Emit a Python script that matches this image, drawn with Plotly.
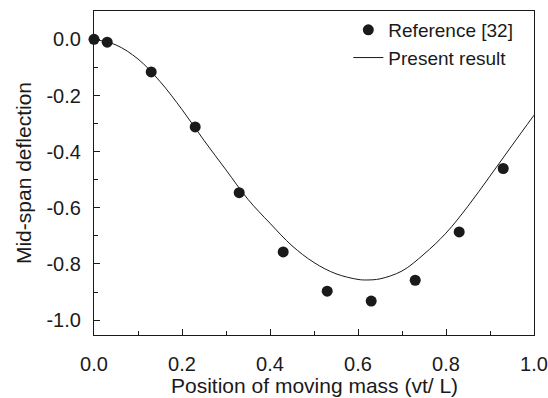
import plotly.graph_objects as go

# Reference [32] data points
ref_x = [0.0, 0.03, 0.13, 0.23, 0.33, 0.43, 0.53, 0.63, 0.73, 0.83, 0.93]
ref_y = [0.0, -0.01, -0.116, -0.312, -0.546, -0.757, -0.897, -0.932, -0.858, -0.686, -0.46]

# Present result curve
cur_x = [0.0, 0.05, 0.1, 0.15, 0.2, 0.25, 0.3, 0.35, 0.4, 0.45, 0.5, 0.55, 0.6, 0.62,
         0.65, 0.7, 0.75, 0.8, 0.85, 0.9, 0.95, 1.0]
cur_y = [0.0, -0.02, -0.07, -0.15, -0.25, -0.36, -0.465, -0.57, -0.655, -0.735, -0.795,
         -0.835, -0.855, -0.857, -0.853, -0.825, -0.765, -0.69, -0.594, -0.487, -0.378, -0.27]

x_title = "Position of moving mass (vt/ L)"
y_title = "Mid-span deflection"

FONT = "Liberation Sans, Arial, sans-serif"

fig = go.Figure()
fig.add_trace(go.Scatter(x=ref_x, y=ref_y, mode="markers", name="Reference [32]",
                         marker=dict(color="#1a1a1a", size=11), cliponaxis=False))
fig.add_trace(go.Scatter(x=cur_x, y=cur_y, mode="lines", name="Present result",
                         line=dict(color="#1a1a1a", width=1, shape="spline")))

axis_common = dict(showgrid=False, zeroline=False, showline=True, linecolor="#1a1a1a",
                   linewidth=1.2, mirror=True, ticks="inside", ticklen=6, tickwidth=1.2,
                   tickcolor="#1a1a1a", tickfont=dict(size=20, color="#1a1a1a"), automargin=False)

fig.update_layout(
    width=548, height=398,
    margin=dict(l=94, r=14, t=11, b=63),
    paper_bgcolor="white", plot_bgcolor="white",
    font=dict(family=FONT, size=20, color="#1a1a1a"),
    showlegend=True,
    legend=dict(x=0.578, y=1.0, xanchor="left", yanchor="top", bgcolor="rgba(0,0,0,0)",
                font=dict(size=19), tracegroupgap=0),
    xaxis=dict(range=[0, 1.0], tickvals=[0, 0.2, 0.4, 0.6, 0.8, 1.0],
               ticktext=["0.0", "0.2", "0.4", "0.6", "0.8", "1.0"],
               minor=dict(ticks="inside", ticklen=4, tickwidth=1.2, tickcolor="#1a1a1a", dtick=0.1, tick0=0),
               ticklabelstandoff=11, **axis_common),
    yaxis=dict(range=[-1.053, 0.101], tickvals=[0, -0.2, -0.4, -0.6, -0.8, -1.0],
               ticktext=["0.0", "-0.2", "-0.4", "-0.6", "-0.8", "-1.0"],
               minor=dict(ticks="inside", ticklen=4, tickwidth=1.2, tickcolor="#1a1a1a", dtick=0.1, tick0=0),
               title=dict(text=y_title, standoff=9, font=dict(size=21)),
               ticklabelstandoff=8, **axis_common),
    annotations=[dict(text=x_title, xref="paper", yref="paper", x=0.5, y=0,
                      xanchor="center", yanchor="middle", yshift=-50, showarrow=False,
                      font=dict(size=21, color="#1a1a1a"))],
)

fig.write_html("out.html")
